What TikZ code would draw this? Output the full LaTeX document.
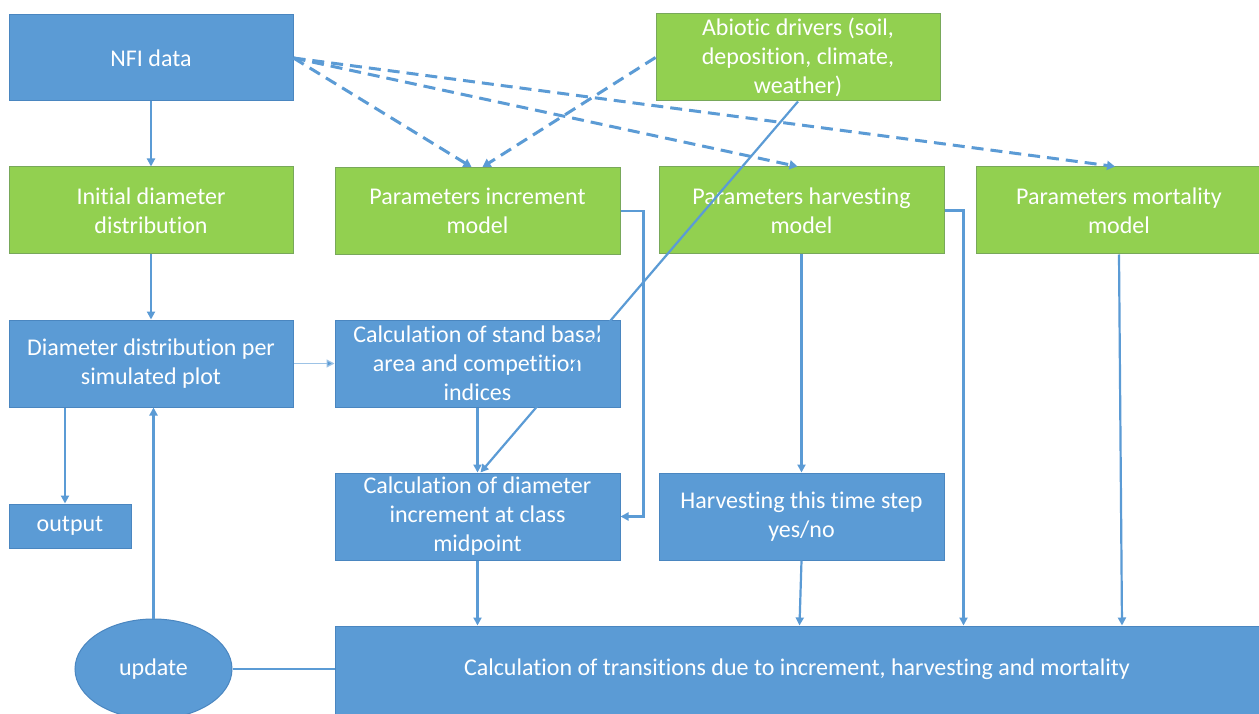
\documentclass[tikz,border=0pt]{standalone}
\usepackage{fontspec}
\setmainfont{Carlito}[Ligatures=NoCommon]
\usetikzlibrary{arrows.meta,calc,shapes.geometric}

\definecolor{boxblue}{HTML}{5B9BD5}
\definecolor{boxblueedge}{HTML}{4A86C0}
\definecolor{boxgreen}{HTML}{92D050}
\definecolor{boxgreenedge}{HTML}{78A85A}
\definecolor{linkblue}{HTML}{5B9BD5}
\definecolor{linklight}{HTML}{9DC3E6}

\tikzset{
  box/.style={rectangle, draw, line width=1pt, text=white, align=center,
    font=\fontsize{24}{29}\selectfont, inner sep=0pt},
  bluebox/.style={box, fill=boxblue, draw=boxblueedge},
  greenbox/.style={box, fill=boxgreen, draw=boxgreenedge},
  wide/.style={minimum width=285pt, minimum height=87pt},
  link/.style={draw=linkblue, line width=2.2pt, -{Triangle[length=8pt,width=8pt]}},
  plainlink/.style={draw=linkblue, line width=2.2pt},
  lightlink/.style={draw=linklight, line width=1.2pt, -{Triangle[length=8pt,width=8pt,fill=linkblue]}},
  dashlink/.style={draw=linkblue, line width=3pt, dash pattern=on 12pt off 7pt,
    -{Triangle[length=8pt,width=9pt]}},
}

\begin{document}
\begin{tikzpicture}[x=1pt, y=-1pt]
  \clip (0,0) rectangle (1259,714);
  \fill[white] (0,0) rectangle (1259,714);

  % top row
  \node[bluebox, wide, minimum width=284pt, minimum height=86pt] (nfi) at (151,58) {NFI data};
  \node[greenbox, wide, minimum width=284pt] (abiotic) at (798,57.5)
    {Abiotic drivers (soil,\\deposition, climate,\\weather)};

  % parameter row
  \node[greenbox, wide, minimum width=284pt] (init) at (151,210.5)
    {Initial diameter\\distribution};
  \node[greenbox, wide] (pinc) at (477.5,211) {Parameters increment\\model};
  \node[greenbox, wide] (pharv) at (801.5,210.5) {Parameters harvesting\\model};
  \node[greenbox, wide, minimum width=290pt] (pmort) at (1121,210.5)
    {\hspace*{-4pt}Parameters mortality\\\hspace*{-4pt}model};

  % simulation row
  \node[bluebox, wide, minimum width=284pt] (ddist) at (151,363.5)
    {Diameter distribution per\\simulated plot};
  \node[bluebox, wide] (cstand) at (477.5,363.5)
    {Calculation of stand basal\\area and competition\\indices};
  \node[bluebox, minimum width=122pt, minimum height=44pt] (output) at (70,526) {output};
  \node[bluebox, wide] (cdinc) at (477.5,516.5)
    {Calculation of diameter\\increment at class\\midpoint};
  \node[bluebox, wide] (hstep) at (801.5,516.5)
    {Harvesting this time step\\yes/no};

  % transitions and update
  \node[bluebox, minimum width=930pt, minimum height=90pt] (trans) at (800,671) {};
  \node[text=white, font=\fontsize{24}{29}\selectfont] (transtext) at (797,669)
    {Calculation of transitions due to increment, harvesting and mortality};
  \node[ellipse, fill=boxblue, draw=boxblueedge, line width=1pt, text=white,
        font=\fontsize{24}{29}\selectfont, minimum width=157pt, minimum height=100pt,
        inner sep=0pt] (update) at (153.5,669) {update};

  % dashed data links
  \draw[dashlink] (nfi.east) -- ($(pinc.north)+(-6,0)$);
  \draw[dashlink] (nfi.east) -- ($(pharv.north)+(-4,0)$);
  \draw[dashlink] (nfi.east) -- ($(pmort.north)+(-6,0)$);
  \draw[dashlink] (abiotic.west) -- ($(pinc.north)+(5,0)$);

  % solid flow links
  \draw[link] (nfi.south) -- (init.north);
  \draw[link] (init.south) -- (ddist.north);
  \draw[link] ([xshift=-86pt]ddist.south) -- ([xshift=-86pt]ddist.south |- output.north);
  \draw[link] (update.north) -- (update.north |- ddist.south);
  \draw[plainlink] (update.east) -- (update.east -| trans.west);
  \draw[lightlink] (ddist.east) -- (ddist.east -| cstand.west);
  \draw[link] (cstand.south) -- (cdinc.north);
  \draw[link] (pinc.east) -- ++(23,0) |- (cdinc.east);
  \draw[link] (cdinc.south) -- (cdinc.south |- trans.north);
  \draw[link] (pharv.south) -- (hstep.north);
  \draw[link] (hstep.south) -- ([xshift=-2pt]hstep.south |- trans.north);
  \draw[link] (pharv.east) -- ++(19,0) coordinate (hk) -- (hk |- trans.north);
  \draw[link] ([xshift=-2pt]pmort.south) -- ([xshift=1pt]pmort.south |- trans.north);
  \draw[link] (abiotic.south) -- ($(cdinc.north)+(3,0)$);
\end{tikzpicture}
\end{document}
